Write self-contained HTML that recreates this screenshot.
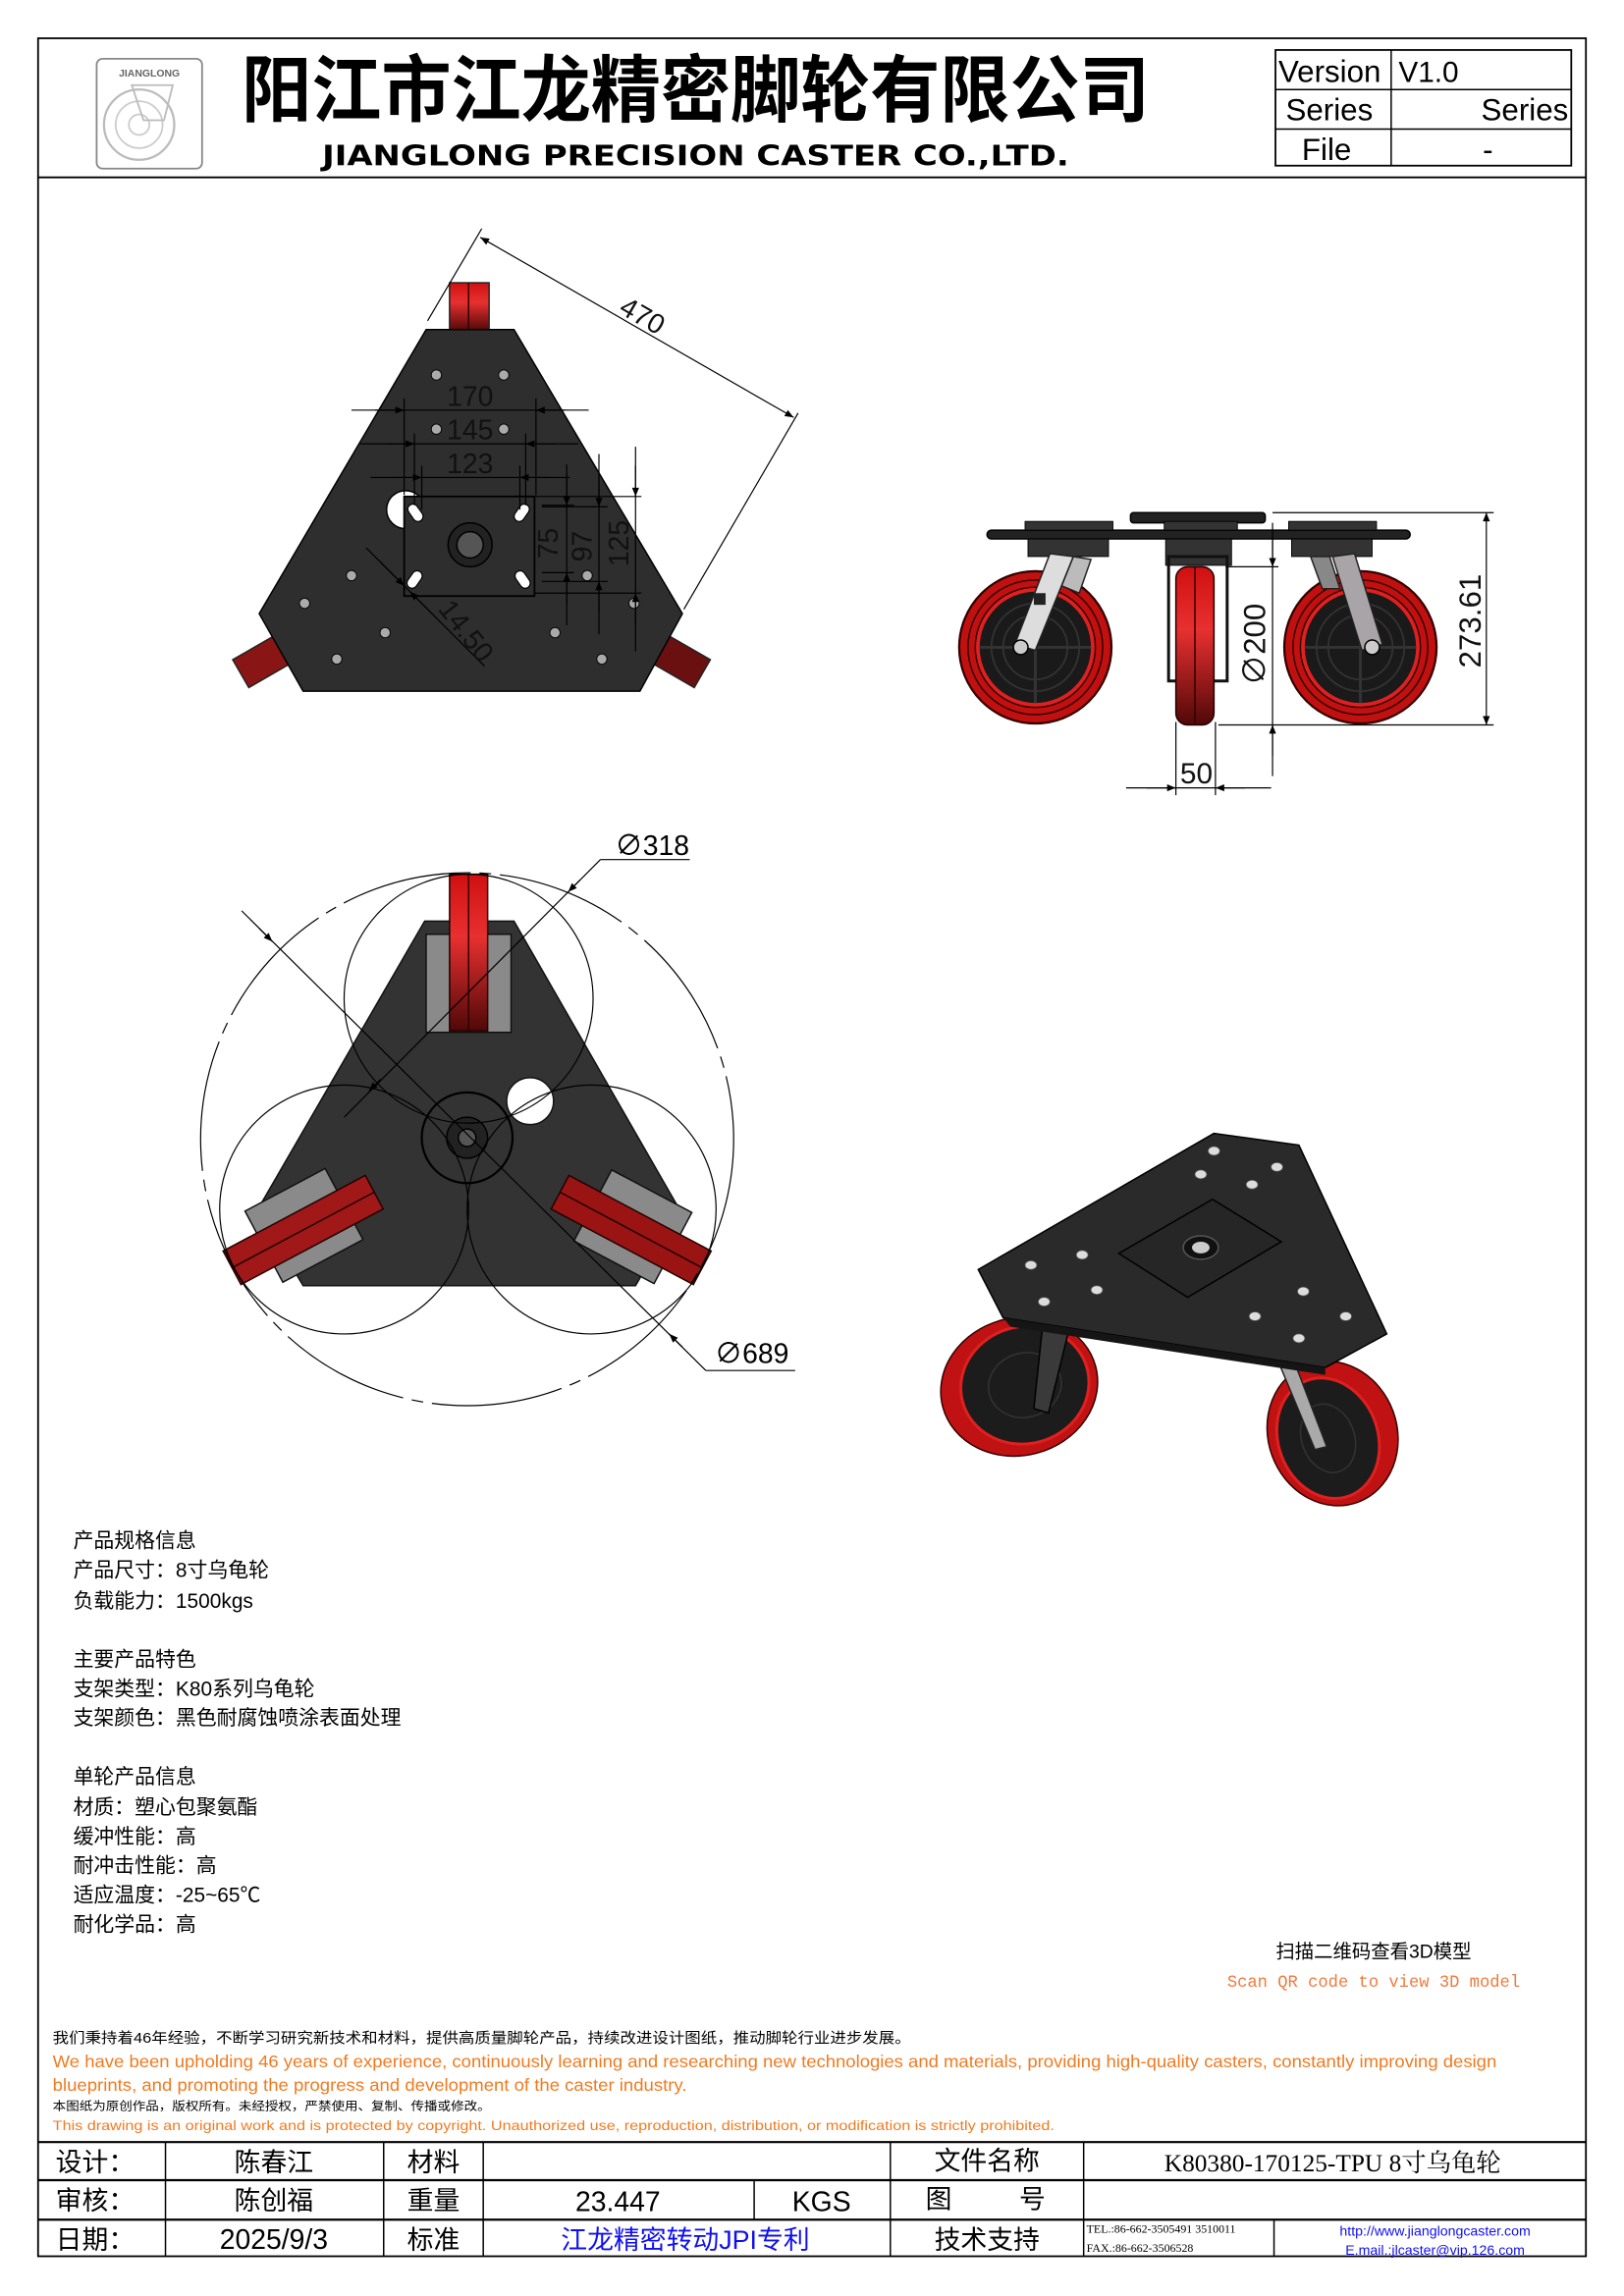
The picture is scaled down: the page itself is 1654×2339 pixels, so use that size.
<!DOCTYPE html>
<html><head><meta charset="utf-8"><style>
html,body{margin:0;padding:0;background:#fff;}
svg{display:block;}
text{font-family:"Liberation Sans","Noto Sans CJK SC",sans-serif;}
</style></head><body>
<svg width="1654" height="2339" viewBox="0 0 1109 1568" xmlns="http://www.w3.org/2000/svg">
<defs>
<marker id="ar" viewBox="0 0 10 10" refX="10" refY="5" markerWidth="9" markerHeight="6" orient="auto-start-reverse" markerUnits="userSpaceOnUse"><path d="M0,1 L10,5 L0,9 z" fill="#000"/></marker>
<linearGradient id="rg" x1="0" y1="0" x2="0" y2="1"><stop offset="0" stop-color="#d01010"/><stop offset="0.4" stop-color="#e83030"/><stop offset="1" stop-color="#500808"/></linearGradient>
<g id="wheel">
<circle r="52" fill="#c01010" stroke="#300" stroke-width="1.5"/>
<circle r="46" fill="none" stroke="#300" stroke-width="1"/>
<circle r="41" fill="#e02020" stroke="#300" stroke-width="1"/>
<circle r="38" fill="#1a1a1a"/>
<circle r="30" fill="none" stroke="#333" stroke-width="1.2"/>
<circle r="22" fill="none" stroke="#333" stroke-width="1.2"/>
<path d="M-38,0H38M0,-38V38" stroke="#333" stroke-width="2"/>
</g>
</defs>
<rect x="0" y="0" width="1109" height="1568" fill="#fff"/>
<!-- frame -->
<rect x="26" y="26" width="1057" height="1515" fill="none" stroke="#000" stroke-width="1.2"/>
<line x1="26" y1="121" x2="1083" y2="121" stroke="#000" stroke-width="1.2"/>
<!-- logo -->
<rect x="66" y="40" width="72" height="75" rx="4" fill="#fff" stroke="#888" stroke-width="1.2"/>
<text x="102" y="52" font-size="7" font-weight="bold" text-anchor="middle" fill="#666">JIANGLONG</text>
<circle cx="95" cy="85" r="24" fill="none" stroke="#bbb" stroke-width="1.5"/>
<circle cx="95" cy="85" r="16" fill="none" stroke="#ccc" stroke-width="1.2"/>
<circle cx="95" cy="85" r="7" fill="none" stroke="#ccc" stroke-width="1.2"/>
<path d="M90,58 L118,58 L112,82 L98,82 z" fill="none" stroke="#bbb" stroke-width="1.2"/>
<text x="165" y="79" font-size="50" textLength="620" lengthAdjust="spacingAndGlyphs" font-family="'Noto Sans CJK SC',sans-serif" font-weight="bold">阳江市江龙精密脚轮有限公司</text>
<text x="220" y="113" font-size="19" font-weight="bold" textLength="510" lengthAdjust="spacingAndGlyphs" style="font-family:'DejaVu Sans','Liberation Sans',sans-serif">JIANGLONG PRECISION CASTER CO.,LTD.</text>
<!-- version table -->
<rect x="871" y="34" width="202" height="79" fill="none" stroke="#000" stroke-width="1.2"/>
<line x1="871" y1="61" x2="1073" y2="61" stroke="#000"/><line x1="871" y1="88" x2="1073" y2="88" stroke="#000"/>
<line x1="950" y1="34" x2="950" y2="113" stroke="#000"/>
<text x="873" y="56" font-size="21">Version</text><text x="955" y="56" font-size="20">V1.0</text>
<text x="878" y="82" font-size="21">Series</text><text x="1071" y="82" font-size="21" text-anchor="end">Series</text>
<text x="889" y="109" font-size="21">File</text><text x="1016" y="109" font-size="21" text-anchor="middle">-</text>

<!-- TOP VIEW -->
<g>
<rect x="307" y="193" width="27" height="33" fill="url(#rg)" stroke="#222"/>
<line x1="320" y1="193" x2="320" y2="226" stroke="#300"/>
<rect x="162" y="440" width="36" height="22" fill="#8a1515" stroke="#222" transform="rotate(-30 180 451)"/>
<rect x="446" y="440" width="36" height="22" fill="#6a1010" stroke="#222" transform="rotate(30 464 451)"/>
<polygon points="291,225 351,225 466,419 437,472 207,472 177,419" fill="#2e2e2e" stroke="#000" stroke-width="1"/>
<g fill="#aaa" stroke="#000" stroke-width="0.6">
<circle cx="298" cy="256" r="3.5"/><circle cx="344" cy="256" r="3.5"/><circle cx="298" cy="293" r="3.5"/><circle cx="344" cy="293" r="3.5"/>
<circle cx="240" cy="393" r="3.5"/><circle cx="208" cy="412" r="3.5"/><circle cx="263" cy="432" r="3.5"/><circle cx="230" cy="450" r="3.5"/>
<circle cx="379" cy="432" r="3.5"/><circle cx="411" cy="450" r="3.5"/><circle cx="401" cy="393" r="3.5"/><circle cx="433" cy="412" r="3.5"/>
</g>
<circle cx="277" cy="348" r="13" fill="#fff" stroke="#000"/>
<rect x="276" y="339" width="89" height="68" fill="#2e2e2e" stroke="#000" stroke-width="1.2"/>
<circle cx="321" cy="372" r="15" fill="#222" stroke="#000"/>
<circle cx="321" cy="372" r="9" fill="#555" stroke="#000"/>
<g fill="#fff" stroke="#000" stroke-width="0.8">
<rect x="280" y="344" width="7" height="13" rx="3.5" transform="rotate(-35 283 350)"/>
<rect x="353" y="344" width="7" height="13" rx="3.5" transform="rotate(35 357 350)"/>
<rect x="280" y="389" width="7" height="13" rx="3.5" transform="rotate(35 283 395)"/>
<rect x="353" y="389" width="7" height="13" rx="3.5" transform="rotate(-35 357 395)"/>
</g>
</g>
<g stroke="#000" stroke-width="0.8" fill="none">
<line x1="292" y1="219" x2="329" y2="156"/>
<line x1="545" y1="282" x2="467" y2="416"/>
<line x1="328" y1="162" x2="542" y2="285" marker-start="url(#ar)" marker-end="url(#ar)"/>
<line x1="240" y1="280" x2="402" y2="280"/>
<line x1="256" y1="280" x2="276" y2="280" marker-end="url(#ar)"/><line x1="386" y1="280" x2="366" y2="280" marker-end="url(#ar)"/>
<line x1="276" y1="272" x2="276" y2="338"/><line x1="366" y1="272" x2="366" y2="338"/>
<line x1="246" y1="303" x2="395" y2="303"/>
<line x1="263" y1="303" x2="283" y2="303" marker-end="url(#ar)"/><line x1="379" y1="303" x2="359" y2="303" marker-end="url(#ar)"/>
<line x1="283" y1="296" x2="283" y2="345"/><line x1="359" y1="296" x2="359" y2="345"/>
<line x1="253" y1="326" x2="389" y2="326"/>
<line x1="268" y1="326" x2="288" y2="326" marker-end="url(#ar)"/><line x1="375" y1="326" x2="355" y2="326" marker-end="url(#ar)"/>
<line x1="288" y1="318" x2="288" y2="348"/><line x1="355" y1="318" x2="355" y2="348"/>
<line x1="387" y1="317" x2="387" y2="427"/>
<line x1="387" y1="324" x2="387" y2="345" marker-end="url(#ar)"/><line x1="387" y1="412" x2="387" y2="391" marker-end="url(#ar)"/>
<line x1="370" y1="345" x2="392" y2="345"/><line x1="370" y1="391" x2="392" y2="391"/>
<line x1="409" y1="310" x2="409" y2="433"/>
<line x1="409" y1="325" x2="409" y2="346" marker-end="url(#ar)"/><line x1="409" y1="418" x2="409" y2="397" marker-end="url(#ar)"/>
<line x1="370" y1="346" x2="415" y2="346"/><line x1="370" y1="397" x2="415" y2="397"/>
<line x1="434" y1="305" x2="434" y2="445"/>
<line x1="434" y1="318" x2="434" y2="339" marker-end="url(#ar)"/><line x1="434" y1="426" x2="434" y2="405" marker-end="url(#ar)"/>
<line x1="365" y1="339" x2="438" y2="339"/><line x1="365" y1="405" x2="438" y2="405"/>
<line x1="250" y1="374" x2="331" y2="455"/>
<line x1="260" y1="384" x2="276" y2="400" marker-end="url(#ar)"/><line x1="296" y1="420" x2="280" y2="404" marker-end="url(#ar)"/>
</g>
<g font-size="19" fill="#111">
<text x="439" y="222" transform="rotate(30 439 215)" text-anchor="middle">470</text>
<text x="321" y="277" text-anchor="middle">170</text>
<text x="321" y="300" text-anchor="middle">145</text>
<text x="321" y="323" text-anchor="middle">123</text>
<text x="381" y="371" transform="rotate(-90 381 371)" text-anchor="middle">75</text>
<text x="404" y="373" transform="rotate(-90 404 373)" text-anchor="middle">97</text>
<text x="429" y="371" transform="rotate(-90 429 371)" text-anchor="middle">125</text>
<text x="318" y="437" transform="rotate(52 318 431)" text-anchor="middle">14.50</text>
</g>

<!-- SIDE VIEW -->
<g>
<rect x="772" y="350" width="92" height="7" rx="2" fill="#222" stroke="#000"/>
<rect x="674" y="362" width="289" height="6" rx="3" fill="#222" stroke="#000"/>
<g fill="#333" stroke="#000" stroke-width="0.6">
<rect x="700" y="356" width="60" height="6"/><rect x="880" y="356" width="60" height="6"/>
<rect x="795" y="356" width="50" height="6"/>
<rect x="702" y="368" width="55" height="12"/><rect x="882" y="368" width="55" height="12"/>
<rect x="796" y="368" width="45" height="18"/>
</g>
<use href="#wheel" x="707" y="442"/>
<use href="#wheel" x="929" y="442"/>
<rect x="798" y="380" width="40" height="85" fill="none" stroke="#111" stroke-width="2"/>
<rect x="803" y="387" width="26" height="108" rx="8" fill="url(#rg)" stroke="#200"/>
<line x1="816" y1="387" x2="816" y2="495" stroke="#300"/>
<polygon points="717,378 733,380 707,444 693,440" fill="#ddd" stroke="#222"/>
<polygon points="733,380 745,382 737,405 725,400" fill="#bbb" stroke="#222"/>
<circle cx="697" cy="442" r="5" fill="#ccc" stroke="#000"/>
<rect x="706" y="405" width="8" height="8" fill="#222"/>
<polygon points="910,380 925,378 944,440 930,444" fill="#a9a4a8" stroke="#222"/>
<polygon points="895,380 908,380 915,402 903,402" fill="#888" stroke="#222"/>
<circle cx="937" cy="442" r="5" fill="#ccc" stroke="#000"/>
</g>
<g stroke="#000" stroke-width="0.8" fill="none">
<line x1="869" y1="350" x2="1020" y2="350"/><line x1="832" y1="495" x2="1020" y2="495"/>
<line x1="1015" y1="350" x2="1015" y2="495" marker-start="url(#ar)" marker-end="url(#ar)"/>
<line x1="837" y1="387" x2="873" y2="387"/>
<line x1="869" y1="357" x2="869" y2="530"/>
<line x1="869" y1="366" x2="869" y2="387" marker-end="url(#ar)"/>
<line x1="869" y1="516" x2="869" y2="495" marker-end="url(#ar)"/>
<line x1="803" y1="493" x2="803" y2="543"/><line x1="830" y1="493" x2="830" y2="543"/>
<line x1="769" y1="538" x2="868" y2="538"/>
<line x1="783" y1="538" x2="803" y2="538" marker-end="url(#ar)"/><line x1="850" y1="538" x2="830" y2="538" marker-end="url(#ar)"/>
</g>
<g font-size="21" fill="#111">
<text x="1011" y="424" transform="rotate(-90 1011 424)" text-anchor="middle">273.61</text>
<text x="864" y="440" transform="rotate(-90 864 440)" text-anchor="middle">∅200</text>
<text x="817" y="535" text-anchor="middle" font-size="20">50</text>
</g>

<!-- BOTTOM VIEW -->
<g>
<polygon points="290,629 351,629 464,826 434,878 207,878 176,826" fill="#333" stroke="#111"/>
<rect x="291" y="638" width="58" height="67" fill="#8a8a8a" stroke="#111"/>
<rect x="307" y="597" width="26" height="107" fill="url(#rg)" stroke="#200"/>
<line x1="320" y1="597" x2="320" y2="704" stroke="#300"/>
<g transform="rotate(-28 207 840)">
<rect x="178" y="810" width="62" height="55" fill="#8a8a8a" stroke="#111"/>
<rect x="152" y="827" width="110" height="26" fill="#a01818" stroke="#200"/>
<line x1="152" y1="840" x2="262" y2="840" stroke="#200"/>
</g>
<g transform="rotate(28 431 840)">
<rect x="400" y="810" width="62" height="55" fill="#8a8a8a" stroke="#111"/>
<rect x="376" y="827" width="110" height="26" fill="#9a1414" stroke="#200"/>
<line x1="376" y1="840" x2="486" y2="840" stroke="#200"/>
</g>
<circle cx="362" cy="752" r="16" fill="#fff" stroke="#111"/>
<circle cx="319" cy="777" r="31" fill="none" stroke="#000" stroke-width="1.5"/>
<circle cx="319" cy="777" r="14" fill="#222" stroke="#000"/>
<circle cx="319" cy="777" r="6" fill="#555" stroke="#000"/>
</g>
<g stroke="#000" stroke-width="0.8" fill="none">
<circle cx="319" cy="778" r="182" stroke-dasharray="90 6 8 6"/>
<circle cx="320" cy="682" r="85"/>
<circle cx="235" cy="826" r="85"/>
<circle cx="404" cy="826" r="85"/>
<line x1="471" y1="587" x2="410" y2="587"/>
<line x1="410" y1="587" x2="235" y2="763"/>
<line x1="396" y1="601" x2="388" y2="609" marker-end="url(#ar)"/>
<line x1="260" y1="737" x2="252" y2="745" marker-end="url(#ar)"/>
<line x1="165" y1="622" x2="482" y2="936"/>
<line x1="177" y1="634" x2="186" y2="643" marker-end="url(#ar)"/>
<line x1="466" y1="920" x2="457" y2="911" marker-end="url(#ar)"/>
<line x1="482" y1="936" x2="543" y2="936"/>
</g>
<text x="420" y="584" font-size="19">∅318</text>
<text x="488" y="931" font-size="19">∅689</text>

<!-- ISOMETRIC -->
<g>
<g transform="rotate(-15 696 947)"><ellipse cx="696" cy="947" rx="54" ry="47" fill="#c01212" stroke="#300"/><ellipse cx="700" cy="947" rx="44" ry="40" fill="#1c1c1c" stroke="#e02020" stroke-width="2"/><ellipse cx="700" cy="947" rx="25" ry="22" fill="none" stroke="#333"/></g>
<g transform="rotate(-20 910 979)"><ellipse cx="910" cy="979" rx="44" ry="50" fill="#c01212" stroke="#300"/><ellipse cx="906" cy="981" rx="34" ry="42" fill="#1c1c1c" stroke="#e02020" stroke-width="2"/><ellipse cx="906" cy="981" rx="18" ry="24" fill="none" stroke="#333"/></g>
<polygon points="712,905 730,908 716,965 706,962" fill="#3a3a3a" stroke="#000"/>
<polygon points="873,930 885,933 906,988 898,990" fill="#aaa" stroke="#222"/>
<polygon points="829,774 887,782 947,911 905,934 685,900 668,867" fill="#2a2a2a" stroke="#000"/>
<polygon points="685,900 905,934 905,939 690,906" fill="#151515"/>
<polygon points="828,819 875,848 811,886 764,856" fill="#262626" stroke="#000"/>
<ellipse cx="820" cy="852" rx="12" ry="8" fill="#111" stroke="#555"/>
<ellipse cx="820" cy="852" rx="6" ry="4" fill="#ccc"/>
<g fill="#ddd" stroke="#555" stroke-width="0.5">
<ellipse cx="829" cy="786" rx="4" ry="3"/><ellipse cx="872" cy="797" rx="4" ry="3"/><ellipse cx="820" cy="802" rx="4" ry="3"/><ellipse cx="855" cy="809" rx="4" ry="3"/>
<ellipse cx="704" cy="864" rx="4" ry="3"/><ellipse cx="739" cy="857" rx="4" ry="3"/><ellipse cx="713" cy="889" rx="4" ry="3"/><ellipse cx="749" cy="881" rx="4" ry="3"/>
<ellipse cx="890" cy="882" rx="4" ry="3"/><ellipse cx="919" cy="899" rx="4" ry="3"/><ellipse cx="857" cy="899" rx="4" ry="3"/><ellipse cx="887" cy="914" rx="4" ry="3"/>
</g>
</g>

<!-- spec text -->
<g font-size="14" fill="#000">
<text x="50" y="1057">产品规格信息</text>
<text x="50" y="1077">产品尺寸：8寸乌龟轮</text>
<text x="50" y="1098">负载能力：1500kgs</text>
<text x="50" y="1138">主要产品特色</text>
<text x="50" y="1158">支架类型：K80系列乌龟轮</text>
<text x="50" y="1178">支架颜色：黑色耐腐蚀喷涂表面处理</text>
<text x="50" y="1218">单轮产品信息</text>
<text x="50" y="1239">材质：塑心包聚氨酯</text>
<text x="50" y="1259">缓冲性能：高</text>
<text x="50" y="1279">耐冲击性能：高</text>
<text x="50" y="1299">适应温度：-25~65℃</text>
<text x="50" y="1319">耐化学品：高</text>
</g>
<text x="938" y="1337" font-size="13" text-anchor="middle">扫描二维码查看3D模型</text>
<text x="938" y="1357" font-size="11.5" text-anchor="middle" fill="#f07a40" style="font-family:'Liberation Mono',monospace">Scan QR code to view 3D model</text>

<text x="36" y="1395" font-size="10" textLength="586" lengthAdjust="spacingAndGlyphs">我们秉持着46年经验，不断学习研究新技术和材料，提供高质量脚轮产品，持续改进设计图纸，推动脚轮行业进步发展。</text>
<text x="36" y="1412" font-size="11.5" fill="#f07a20" textLength="986" lengthAdjust="spacingAndGlyphs">We have been upholding 46 years of experience, continuously learning and researching new technologies and materials, providing high-quality casters, constantly improving design</text>
<text x="36" y="1428" font-size="11.5" fill="#f07a20" textLength="433" lengthAdjust="spacingAndGlyphs">blueprints, and promoting the progress and development of the caster industry.</text>
<text x="36" y="1441" font-size="8" textLength="299" lengthAdjust="spacingAndGlyphs">本图纸为原创作品，版权所有。未经授权，严禁使用、复制、传播或修改。</text>
<text x="36" y="1455" font-size="9.5" fill="#f07a20" textLength="684" lengthAdjust="spacingAndGlyphs">This drawing is an original work and is protected by copyright. Unauthorized use, reproduction, distribution, or modification is strictly prohibited.</text>

<!-- bottom table -->
<g stroke="#000" fill="none">
<line x1="26" y1="1463" x2="1083" y2="1463" stroke-width="1.5"/>
<line x1="26" y1="1489" x2="1083" y2="1489" stroke-width="1.5"/>
<line x1="26" y1="1516" x2="1083" y2="1516" stroke-width="1.5"/>
<line x1="113" y1="1463" x2="113" y2="1541"/><line x1="262" y1="1463" x2="262" y2="1541"/>
<line x1="330" y1="1463" x2="330" y2="1541"/><line x1="608" y1="1463" x2="608" y2="1541"/>
<line x1="740" y1="1463" x2="740" y2="1541"/><line x1="515" y1="1489" x2="515" y2="1516"/>
<line x1="870" y1="1516" x2="870" y2="1541"/>
</g>
<g font-size="18" fill="#000">
<text x="38" y="1483">设计：</text><text x="187" y="1483" text-anchor="middle">陈春江</text><text x="296" y="1483" text-anchor="middle">材料</text>
<text x="674" y="1482" text-anchor="middle">文件名称</text>
<text x="910" y="1483" text-anchor="middle" font-size="17" style="font-family:'Liberation Serif','Noto Serif CJK SC',serif">K80380-170125-TPU 8寸乌龟轮</text>
<text x="38" y="1509">审核：</text><text x="187" y="1509" text-anchor="middle">陈创福</text><text x="296" y="1509" text-anchor="middle">重量</text>
<text x="422" y="1510" text-anchor="middle" font-size="19">23.447</text><text x="561" y="1510" text-anchor="middle" font-size="19">KGS</text>
<text x="632" y="1508">图</text><text x="696" y="1508">号</text>
<text x="38" y="1536">日期：</text><text x="187" y="1536" text-anchor="middle" font-size="19">2025/9/3</text><text x="296" y="1536" text-anchor="middle">标准</text>
<text x="468" y="1536" text-anchor="middle" fill="#1010ee">江龙精密转动JPI专利</text>
<text x="674" y="1536" text-anchor="middle">技术支持</text>
</g>
<text x="742" y="1525" font-size="8" style="font-family:'Liberation Serif',serif">TEL.:86-662-3505491 3510011</text>
<text x="742" y="1538" font-size="8" style="font-family:'Liberation Serif',serif">FAX.:86-662-3506528</text>
<text x="980" y="1527" font-size="9.5" fill="#1010ee" text-anchor="middle">http://www.jianglongcaster.com</text>
<text x="980" y="1540" font-size="9.5" fill="#1010ee" text-anchor="middle">E.mail.:jlcaster@vip.126.com</text>
</svg>
</body></html>
